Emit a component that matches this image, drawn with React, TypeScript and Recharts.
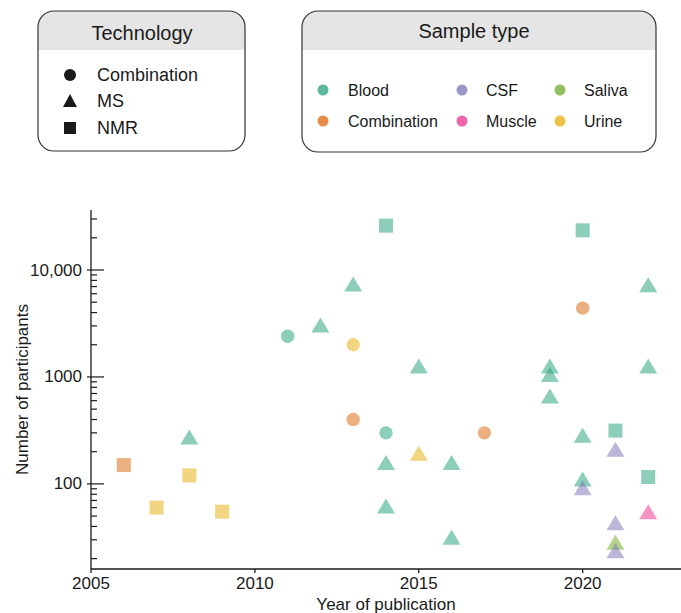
import React from 'react';
import { ScatterChart, Scatter, XAxis, YAxis, Label } from 'recharts';

// ---- data ----
const years = [
  2006, 2007, 2008, 2008, 2009, 2011, 2012, 2013, 2013, 2013,
  2014, 2014, 2014, 2014, 2015, 2015, 2016, 2016, 2017, 2019,
  2019, 2019, 2020, 2020, 2020, 2020, 2020, 2021, 2021, 2021,
  2021, 2021, 2022, 2022, 2022, 2022,
];
const participants = [
  150, 60, 120, 260, 55, 2400, 2900, 7000, 2000, 400,
  26000, 300, 150, 59, 183, 1200, 150, 30, 300, 1200,
  1000, 630, 23500, 4400, 270, 105, 87, 315, 200, 41,
  27, 22.5, 6900, 1200, 116, 52,
];
const technologies = [
  'NMR', 'NMR', 'NMR', 'MS', 'NMR', 'Combination', 'MS', 'MS', 'Combination', 'Combination',
  'NMR', 'Combination', 'MS', 'MS', 'MS', 'MS', 'MS', 'MS', 'Combination', 'MS',
  'MS', 'MS', 'NMR', 'Combination', 'MS', 'MS', 'MS', 'NMR', 'MS', 'MS',
  'MS', 'MS', 'MS', 'MS', 'NMR', 'MS',
];
const sampleTypes = [
  'Combination', 'Urine', 'Urine', 'Blood', 'Urine', 'Blood', 'Blood', 'Blood', 'Urine', 'Combination',
  'Blood', 'Blood', 'Blood', 'Blood', 'Urine', 'Blood', 'Blood', 'Blood', 'Combination', 'Blood',
  'Blood', 'Blood', 'Blood', 'Combination', 'Blood', 'Blood', 'CSF', 'Blood', 'CSF', 'CSF',
  'Saliva', 'CSF', 'Blood', 'Blood', 'Blood', 'Muscle',
];

const technologyLegend = ['Combination', 'MS', 'NMR'];
const sampleLegendRows = [
  ['Blood', 'CSF', 'Saliva'],
  ['Combination', 'Muscle', 'Urine'],
];

const xTicks = [2005, 2010, 2015, 2020];
const yMajorTicks = [100, 1000, 10000];
const yMinorTicks = [
  20, 30, 40, 50, 60, 70, 80, 90,
  200, 300, 400, 500, 600, 700, 800, 900,
  2000, 3000, 4000, 5000, 6000, 7000, 8000, 9000,
  20000, 30000,
];

const sampleColors: Record<string, string> = {
  Blood: '#1B9E77',
  Combination: '#D95F02',
  CSF: '#7570B3',
  Muscle: '#E7298A',
  Saliva: '#66A61E',
  Urine: '#E6AB02',
};

const data = years.map((year, i) => ({
  year,
  n: participants[i],
  tech: technologies[i],
  sample: sampleTypes[i],
}));

const FONT = '"Liberation Sans", Arial, Helvetica, sans-serif';
const INK = '#1a1a1a';

const fmt = (v: number) => (v >= 10000 ? v.toLocaleString('en-US') : String(v));

const YTick = (props: any) => {
  const { x, y, payload } = props;
  const v = payload.value;
  const major = yMajorTicks.includes(v);
  return (
    <g>
      <line
        x1={major ? x - 4 : x}
        x2={major ? x + 13 : x + 6}
        y1={y}
        y2={y}
        stroke={INK}
        strokeWidth={1.2}
      />
      {major && (
        <text
          x={x - 9}
          y={y}
          textAnchor="end"
          dominantBaseline="central"
          fontSize={17}
          fontFamily={FONT}
          fill={INK}
        >
          {fmt(v)}
        </text>
      )}
    </g>
  );
};

const renderShape = (props: any) => {
  const { cx, cy, payload } = props;
  const color = sampleColors[payload.sample];
  if (payload.tech === 'Combination') {
    return <circle cx={cx} cy={cy} r={6.7} fill={color} fillOpacity={0.5} />;
  }
  if (payload.tech === 'NMR') {
    return <rect x={cx - 7} y={cy - 7} width={14} height={14} fill={color} fillOpacity={0.5} />;
  }
  return (
    <polygon
      points={`${cx},${cy - 10} ${cx + 9},${cy + 5} ${cx - 9},${cy + 5}`}
      fill={color}
      fillOpacity={0.5}
    />
  );
};

const TechSymbol = ({ kind, x, y }: { kind: string; x: number; y: number }) => {
  if (kind === 'Combination') return <circle cx={x} cy={y} r={6} fill={INK} />;
  if (kind === 'MS') return <polygon points={`${x},${y - 7} ${x + 7},${y + 6} ${x - 7},${y + 6}`} fill={INK} />;
  return <rect x={x - 6} y={y - 6} width={12} height={12} fill={INK} />;
};

const Legends = () => {
  const headerPath = (x: number, w: number, top: number, bottom: number, r: number) =>
    `M${x},${bottom} V${top + r} A${r},${r} 0 0 1 ${x + r},${top} H${x + w - r} A${r},${r} 0 0 1 ${x + w},${top + r} V${bottom} Z`;
  const colX = [[323, 348], [462, 486], [560, 584]];
  const rowY = [90, 121];
  return (
    <svg width={681} height={160} style={{ position: 'absolute', left: 0, top: 0 }}>
      {/* Technology */}
      <rect x={38} y={11} width={207} height={140} rx={16} fill="#fff" />
      <path d={headerPath(38, 207, 11, 50, 16)} fill="#e5e5e5" />
      <rect x={38} y={11} width={207} height={140} rx={16} fill="none" stroke="#333" strokeWidth={1.2} />
      <text x={142} y={33} textAnchor="middle" dominantBaseline="central" fontSize={20} fontFamily={FONT} fill={INK}>
        Technology
      </text>
      {technologyLegend.map((t, i) => {
        const y = [75, 101, 128][i];
        return (
          <g key={t}>
            <TechSymbol kind={t} x={70} y={y} />
            <text x={97} y={y} dominantBaseline="central" fontSize={18} fontFamily={FONT} fill={INK}>
              {t}
            </text>
          </g>
        );
      })}
      {/* Sample type */}
      <rect x={302} y={11} width={354} height={141} rx={16} fill="#fff" />
      <path d={headerPath(302, 354, 11, 50, 16)} fill="#e5e5e5" />
      <rect x={302} y={11} width={354} height={141} rx={16} fill="none" stroke="#333" strokeWidth={1.2} />
      <text x={474} y={31} textAnchor="middle" dominantBaseline="central" fontSize={20} fontFamily={FONT} fill={INK}>
        Sample type
      </text>
      {sampleLegendRows.map((row, r) =>
        row.map((s, c) => (
          <g key={s + r}>
            <circle cx={colX[c][0]} cy={rowY[r]} r={5.5} fill={sampleColors[s]} fillOpacity={0.72} />
            <text x={colX[c][1]} y={rowY[r]} dominantBaseline="central" fontSize={16} fontFamily={FONT} fill={INK}>
              {s}
            </text>
          </g>
        ))
      )}
    </svg>
  );
};

export default function App() {
  return (
    <div style={{ position: 'absolute', left: 0, top: 0, width: 681, height: 613, background: '#fff' }}>
      <ScatterChart width={681} height={613} margin={{ top: 210, right: 0, bottom: 0, left: 31 }}>
        <XAxis
          dataKey="year"
          type="number"
          domain={[2005, 2023]}
          ticks={xTicks}
          interval={0}
          allowDataOverflow
          height={44}
          tickSize={4}
          tickMargin={4}
          stroke={INK}
          strokeWidth={1.3}
          tick={{ fontSize: 17, fill: INK, fontFamily: FONT }}
        >
          <Label
            value="Year of publication"
            position="insideBottom"
            offset={3}
            fontSize={17}
            fill={INK}
            fontFamily={FONT}
          />
        </XAxis>
        <YAxis
          dataKey="n"
          type="number"
          scale="log"
          domain={[16, 36400]}
          allowDataOverflow
          ticks={[...yMajorTicks, ...yMinorTicks].sort((a, b) => a - b)}
          interval={0}
          width={60}
          tickSize={0}
          tickMargin={0}
          tickLine={false}
          stroke={INK}
          strokeWidth={1.3}
          tick={<YTick />}
        >
          <Label
            content={(p: any) => {
              const vb = p.viewBox || {};
              const cx = 22;
              const cy = vb.height ? vb.y + vb.height / 2 : 389.5;
              return (
                <text
                  x={cx}
                  y={cy}
                  transform={`rotate(-90 ${cx} ${cy})`}
                  textAnchor="middle"
                  dominantBaseline="central"
                  fontSize={17}
                  fontFamily={FONT}
                  fill={INK}
                >
                  Number of participants
                </text>
              );
            }}
          />
        </YAxis>
        <Scatter data={data} shape={renderShape} isAnimationActive={false} />
      </ScatterChart>
      <Legends />
    </div>
  );
}
